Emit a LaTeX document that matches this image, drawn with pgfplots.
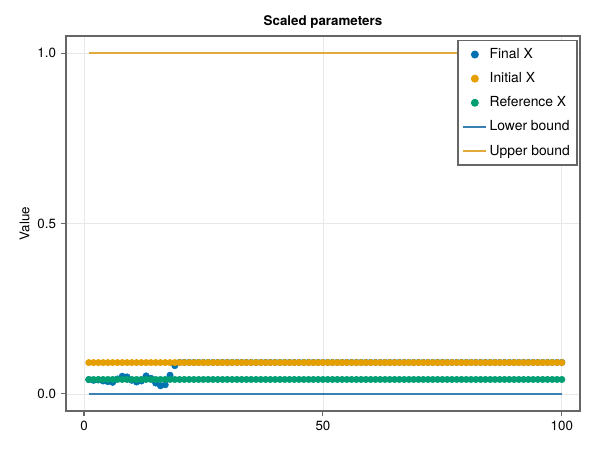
\documentclass[border=0pt]{standalone}
\usepackage{pgfplots}
\usepackage{pgfplotstable}
\pgfplotsset{compat=1.18}
\usepackage{fontspec}
\setmainfont{TeX Gyre Heros}
\definecolor{mblue}{RGB}{0,114,178}
\definecolor{morange}{RGB}{230,159,0}
\definecolor{mgreen}{RGB}{0,158,115}
\definecolor{lblue}{RGB}{58,128,176}
\definecolor{lorange}{RGB}{226,170,60}
\pgfplotstableread{
x final initial ref
1 0.042 0.092 0.0425
2 0.040 0.092 0.0425
3 0.041 0.092 0.0425
4 0.038 0.092 0.0425
5 0.036 0.092 0.0425
6 0.034 0.092 0.0425
7 0.044 0.092 0.0425
8 0.052 0.092 0.0425
9 0.050 0.092 0.0425
10 0.040 0.092 0.0425
11 0.035 0.092 0.0425
12 0.038 0.092 0.0425
13 0.053 0.092 0.0425
14 0.046 0.092 0.0425
15 0.032 0.092 0.0425
16 0.024 0.092 0.0425
17 0.027 0.092 0.0425
18 0.055 0.092 0.0425
19 0.083 0.092 0.0425
20 0.0925 0.092 0.0425
21 0.0925 0.092 0.0425
22 0.0925 0.092 0.0425
23 0.0925 0.092 0.0425
24 0.0925 0.092 0.0425
25 0.0925 0.092 0.0425
26 0.0925 0.092 0.0425
27 0.0925 0.092 0.0425
28 0.0925 0.092 0.0425
29 0.0925 0.092 0.0425
30 0.0925 0.092 0.0425
31 0.0925 0.092 0.0425
32 0.0925 0.092 0.0425
33 0.0925 0.092 0.0425
34 0.0925 0.092 0.0425
35 0.0925 0.092 0.0425
36 0.0925 0.092 0.0425
37 0.0925 0.092 0.0425
38 0.0925 0.092 0.0425
39 0.0925 0.092 0.0425
40 0.0925 0.092 0.0425
41 0.0925 0.092 0.0425
42 0.0925 0.092 0.0425
43 0.0925 0.092 0.0425
44 0.0925 0.092 0.0425
45 0.0925 0.092 0.0425
46 0.0925 0.092 0.0425
47 0.0925 0.092 0.0425
48 0.0925 0.092 0.0425
49 0.0925 0.092 0.0425
50 0.0925 0.092 0.0425
51 0.0925 0.092 0.0425
52 0.0925 0.092 0.0425
53 0.0925 0.092 0.0425
54 0.0925 0.092 0.0425
55 0.0925 0.092 0.0425
56 0.0925 0.092 0.0425
57 0.0925 0.092 0.0425
58 0.0925 0.092 0.0425
59 0.0925 0.092 0.0425
60 0.0925 0.092 0.0425
61 0.0925 0.092 0.0425
62 0.0925 0.092 0.0425
63 0.0925 0.092 0.0425
64 0.0925 0.092 0.0425
65 0.0925 0.092 0.0425
66 0.0925 0.092 0.0425
67 0.0925 0.092 0.0425
68 0.0925 0.092 0.0425
69 0.0925 0.092 0.0425
70 0.0925 0.092 0.0425
71 0.0925 0.092 0.0425
72 0.0925 0.092 0.0425
73 0.0925 0.092 0.0425
74 0.0925 0.092 0.0425
75 0.0925 0.092 0.0425
76 0.0925 0.092 0.0425
77 0.0925 0.092 0.0425
78 0.0925 0.092 0.0425
79 0.0925 0.092 0.0425
80 0.0925 0.092 0.0425
81 0.0925 0.092 0.0425
82 0.0925 0.092 0.0425
83 0.0925 0.092 0.0425
84 0.0925 0.092 0.0425
85 0.0925 0.092 0.0425
86 0.0925 0.092 0.0425
87 0.0925 0.092 0.0425
88 0.0925 0.092 0.0425
89 0.0925 0.092 0.0425
90 0.0925 0.092 0.0425
91 0.0925 0.092 0.0425
92 0.0925 0.092 0.0425
93 0.0925 0.092 0.0425
94 0.0925 0.092 0.0425
95 0.0925 0.092 0.0425
96 0.0925 0.092 0.0425
97 0.0925 0.092 0.0425
98 0.0925 0.092 0.0425
99 0.0925 0.092 0.0425
100 0.0925 0.092 0.0425
}\datatab
\pgfplotstableread{
x lo up
1 0 1
100 0 1
}\boundtab
\begin{document}
\begin{tikzpicture}
\begin{axis}[
  name=ax,
  scale only axis,
  width=385.5pt, height=281.25pt,
  xmin=-3.77, xmax=103.8,
  ymin=-0.05, ymax=1.05,
  xtick={0,50,100},
  ytick={0,0.5,1},
  yticklabels={0.0,0.5,1.0},
  /pgf/number format/assume math mode=true,
  tick label style={font=\fontsize{10}{12}\selectfont},
  grid=major,
  major grid style={draw=black!9, line width=0.6pt},
  axis line style={draw=black!60, line width=1.2pt},
  tick style={draw=black!60, line width=0.8pt},
  tick align=outside,
  major tick length=4pt,
  xtick pos=bottom, ytick pos=left,
  title={\bfseries Scaled parameters},
  title style={font=\fontsize{10}{12}\selectfont, yshift=-4pt},
  ylabel={Value},
  ylabel style={font=\fontsize{10}{12}\selectfont, yshift=-1pt},
  legend style={at={(0.996,0.99)}, anchor=north east, draw=black!60, line width=1.1pt,
    font=\fontsize{10.4}{12}\selectfont, row sep=5pt, inner xsep=3.5pt, inner ysep=4pt,
    nodes={inner xsep=2pt}},
  legend cell align=left,
]
\addplot[only marks, mark=*, mark size=2.4pt, mblue, mark options={draw=none, fill=mblue}] table[x=x, y=final] {\datatab};
\addlegendentry{Final X}
\addplot[only marks, mark=*, mark size=2.4pt, morange, mark options={draw=none, fill=morange}] table[x=x, y=initial] {\datatab};
\addlegendentry{Initial X}
\addplot[only marks, mark=*, mark size=2.4pt, mgreen, mark options={draw=none, fill=mgreen}] table[x=x, y=ref] {\datatab};
\addlegendentry{Reference X}
\addplot[lblue, line width=1.1pt] table[x=x, y=lo] {\boundtab};
\addlegendentry{Lower bound}
\addplot[lorange, line width=1.1pt] table[x=x, y=up] {\boundtab};
\addlegendentry{Upper bound}
\end{axis}
\pgfresetboundingbox
\path ([xshift=-49.5pt,yshift=-29.25pt]ax.south west) rectangle ([xshift=15pt,yshift=27pt]ax.north east);
\end{tikzpicture}
\end{document}
